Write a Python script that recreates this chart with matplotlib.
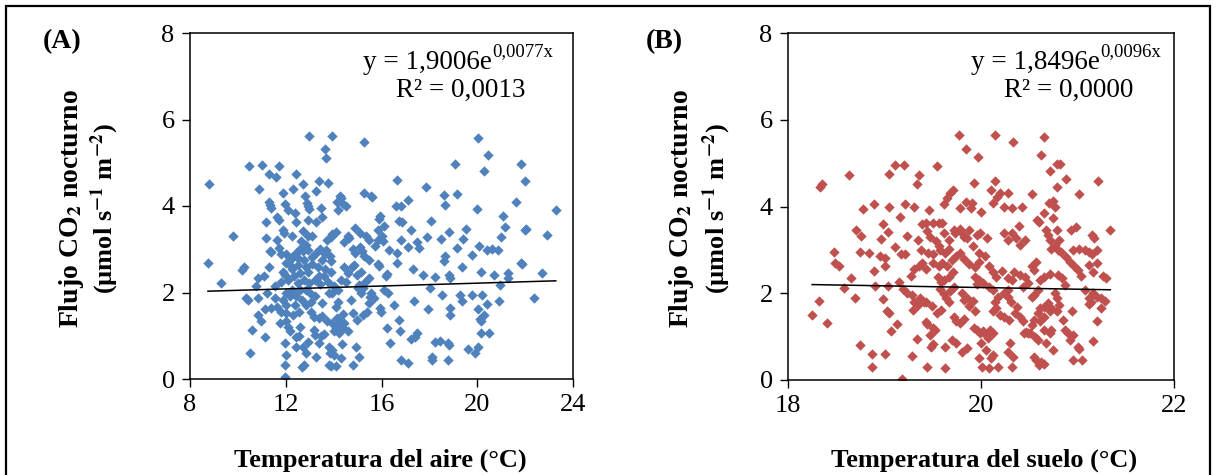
import matplotlib
matplotlib.use("Agg")
import matplotlib.pyplot as plt
from matplotlib.patches import Rectangle
import numpy as np

plt.rcParams['font.family'] = ['Liberation Serif', 'DejaVu Serif']
plt.rcParams['mathtext.fontset'] = 'stix'

# panel A: air temperature (°C) vs night CO2 flux
points_a = [
    (12.96,5.62),(13.95,5.63),(15.25,5.47),(20.02,5.57),(13.62,5.32),(13.69,5.11),(20.46,5.18),
    (10.45,4.93),(11.0,4.94),(11.72,4.92),(19.06,4.96),(21.82,4.96),(20.3,4.81),
    (11.28,4.74),(11.6,4.68),(12.42,4.74),(8.8,4.51),(13.38,4.57),(13.78,4.54),(12.72,4.50),
    (16.66,4.61),(21.98,4.57),(17.84,4.43),(10.88,4.39),(12.3,4.39),(13.26,4.34),(15.28,4.31),
    (15.58,4.24),(15.62,4.21),(11.9,4.30),(18.6,4.26),(19.14,4.27),(12.8,4.22),(14.25,4.24),(14.3,4.18),
    (17.11,4.14),(21.63,4.09),(18.65,4.03),(16.59,4.0),(16.83,4.0),(20.0,3.93),(23.28,3.90),
    (11.28,4.10),(11.35,4.02),(11.39,3.95),(11.98,4.05),(12.08,3.91),(12.88,4.07),(12.97,3.94),
    (14.15,4.1),(14.4,4.05),(14.5,4.0),(14.18,3.9),(13.49,3.95),(12.92,4.0),
    (11.18,3.64),(11.73,3.68),(11.65,3.75),(12.39,3.83),(11.87,3.45),(12.43,3.62),(12.91,3.68),(13.26,3.62),(13.52,3.74),
    (14.1,3.41),(13.9,3.28),(13.73,3.22),(13.95,3.35),(9.79,3.31),(11.18,3.25),(11.39,2.94),(11.62,3.22),(11.94,3.37),
    (12.27,3.30),(12.74,3.43),(13.1,3.31),(14.9,3.50),(15.11,3.37),(15.35,3.30),(15.87,3.45),(16.11,3.53),(15.9,3.7),(15.93,3.77),
    (16.75,3.66),(16.87,3.62),(17.23,3.45),(17.49,3.16),(17.9,3.28),(18.08,3.66),(18.47,3.24),(18.81,3.39),(19.53,3.46),
    (19.42,3.24),(20.98,3.28),(21.18,3.51),(21.06,3.76),(21.98,3.45),(22.05,3.47),(22.91,3.34),(16.8,3.22),(17.09,3.06),(17.57,3.02),
    (16.66,2.91),(16.3,2.99),(19.15,3.02),(20.08,3.08),(20.4,2.99),(20.6,3.0),(20.85,2.99),(19.79,2.87),(18.65,2.85),(18.62,2.72),
    (19.38,2.58),(16.66,2.68),(15.87,2.66),(15.9,2.62),(17.3,2.54),(17.75,2.41),(18.23,2.35),(18.81,2.41),(18.85,2.33),(20.14,2.48),
    (20.7,2.41),(21.29,2.45),(21.29,2.33),(21.82,2.68),(21.86,2.65),(22.72,2.45),(20.94,2.18),(18.04,2.10),(18.52,1.94),(19.28,1.94),
    (19.79,1.94),(20.21,1.94),(20.42,1.74),(20.9,1.81),(19.37,1.81),(18.85,1.64),(17.94,1.61),(17.36,1.81),(20.03,1.61),(18.88,1.48),
    (20.3,1.48),(20.16,1.33),(20.1,1.38),(22.35,1.87),(20.14,1.06),(20.5,1.07),(19.61,0.69),(20.02,0.73),(19.92,0.59),(18.78,0.83),(18.8,0.78),
    (18.23,0.86),(18.46,0.89),(18.13,0.44),(18.77,0.44),(18.13,0.52),(17.5,1.06),(17.23,0.92),(17.39,0.98),(16.8,0.44),(17.1,0.38),
    (16.24,1.17),(16.76,1.1),(16.73,1.37),(16.37,0.84),(15.92,1.64),(15.98,1.56),(16.11,2.06),(16.27,1.98),(16.19,2.37),(16.25,2.42),
    (16.54,1.71),(15.57,1.98),(15.7,1.87),(15.47,1.75),(15.39,1.56),(15.22,1.48),(14.99,1.37),(14.83,1.52),(14.72,1.83),(15.15,1.98),
    (15.23,2.1),(15.07,2.18),(15.31,2.25),(15.47,2.33),(14.96,2.41),(15.15,2.48),(14.75,2.6),(14.86,2.64),(15.28,2.85),(15.47,2.75),
    (15.71,3.08),(15.87,3.22),(15.47,3.22),(15.12,3.06),(14.8,3.0),(14.91,2.91),(14.43,3.16),(14.45,2.6),(14.59,2.45),(14.51,2.25),
    (14.3,2.3),(14.19,2.06),(14.03,2.14),(13.79,1.98),(14.19,1.79),(14.08,1.67),(13.75,2.25),(13.58,2.37),(13.9,2.48),(13.85,2.85),
    (13.87,2.72),(13.63,2.89),(13.52,2.75),(13.28,2.91),(13.7,2.99),(13.1,2.83),(12.91,2.99),(12.83,3.1),(12.59,3.0),(12.43,2.91),
    (12.27,2.83),(12.14,2.72),(12.27,2.6),(12.51,2.64),(12.75,2.75),(12.83,2.6),(12.91,2.48),(12.59,2.45),(12.35,2.37),(12.11,2.29),
    (12.51,2.21),(12.75,2.29),(12.99,2.21),(13.23,2.29),(13.39,2.37),(12.27,2.06),(12.03,1.98),(12.19,1.91),(12.43,1.91),(12.67,1.83),
    (12.83,1.71),(13.07,1.79),(13.23,1.91),(11.87,1.83),(12.03,1.71),(11.79,1.56),(12.03,1.52),(12.31,1.48),(12.55,1.56),(13.07,1.56),
    (13.17,1.44),(13.4,1.4),(13.52,1.75),(13.95,1.98),(13.71,1.33),(13.92,1.29),(14.16,1.40),(14.27,1.25),(14.11,1.17),(14.4,1.17),
    (14.43,1.29),(14.21,1.06),(14.0,1.1),(14.6,1.1),(13.17,1.13),(13.23,1.02),(13.49,1.0),(13.39,0.83),(13.6,1.05),(13.79,0.75),
    (13.84,0.61),(13.95,0.67),(14.03,0.56),(14.32,0.48),(14.34,0.81),(13.79,0.32),(13.9,0.29),(14.12,0.29),(14.83,0.32),(14.94,0.75),
    (15.07,0.52),(12.43,0.96),(12.55,1.0),(12.72,0.73),(12.91,0.86),(13.26,0.52),(12.83,0.61),(12.75,0.32),(12.67,0.27),(12.43,0.75),
    (12.03,0.56),(11.98,0.83),(11.98,0.32),(11.95,0.04),(12.19,1.1),(12.08,1.21),(11.76,1.29),(12.0,1.35),(10.51,0.59),(10.59,1.13),
    (11.12,0.96),(10.98,1.33),(10.85,1.48),(10.83,1.87),(10.35,1.87),(10.42,1.82),(10.19,2.52),(10.25,2.6),(9.28,2.21),(8.75,2.68),
    (10.83,2.33),(11.08,2.37),(10.75,2.14),(11.2,1.98),(11.15,1.61),(11.39,1.64),(11.62,1.67),(11.55,1.87),(11.57,2.14),(11.31,2.6),
    (11.34,2.95),(11.71,3.02),(11.8,2.9),(12.0,2.9),(12.2,2.78),(12.03,2.68),(12.25,2.55),(11.87,2.48),(11.79,2.25),(11.95,2.4),
    (12.6,2.05),(12.85,2.05),(13.0,2.0),(12.4,1.7),(12.6,1.2),(13.5,1.45),(13.35,2.6),(13.1,2.65),(12.65,3.2),(12.95,3.3),
    (12.5,2.8),(12.7,2.95),(13.45,3.0),(13.65,2.55),(14.6,3.3),(14.65,3.25),(15.0,2.1),(15.5,1.9),(16.0,3.3),(16.05,3.2),
    (15.2,2.95),(14.4,1.5),(14.25,1.35),(13.45,2.2),
]

# panel B: soil temperature (°C) vs night CO2 flux
points_b = [
    (19.77,5.65),(20.15,5.65),(20.33,5.49),(20.65,5.6),(19.84,5.32),(19.97,5.14),(20.62,5.19),
    (19.11,4.95),(19.2,4.95),(19.54,4.94),(19.05,4.75),(18.63,4.73),(20.71,4.81),(20.79,4.98),(20.82,4.98),
    (19.36,4.72),(19.34,4.52),(18.33,4.46),(18.35,4.52),(20.88,4.63),(21.21,4.58),(19.93,4.55),(20.14,4.58),(20.79,4.45),
    (19.65,4.2),(19.68,4.3),(19.71,4.37),(20.1,4.37),(20.17,4.23),(20.2,4.3),(20.28,4.3),(20.53,4.28),(21.02,4.28),
    (18.78,3.95),(18.89,4.06),(19.05,4.0),(19.21,4.06),(19.31,4.0),(19.46,3.91),(19.62,4.06),(19.78,3.96),(19.84,4.1),
    (19.91,4.08),(19.9,3.96),(20.0,3.88),(20.12,4.08),(20.24,3.98),(20.32,3.96),(20.43,4.0),(20.7,4.08),(20.75,4.12),(20.77,4.0),
    (20.65,3.85),(20.39,3.54),(20.58,3.69),(20.6,3.65),(20.75,3.73),(20.79,3.46),(20.93,3.46),(20.98,3.52),(21.34,3.45),
    (21.15,3.35),(21.17,3.27),(18.7,3.45),(18.76,3.31),(18.98,3.6),(19.04,3.41),(18.96,3.25),(19.16,3.75),(19.23,3.31),
    (19.35,3.22),(19.39,3.6),(19.43,3.63),(19.5,3.63),(19.56,3.63),(19.6,3.63),(19.44,3.43),(19.47,3.3),(19.53,3.2),(19.56,3.1),
    (19.67,3.23),(19.72,3.46),(19.73,3.38),(19.78,3.48),(19.8,3.38),(19.82,3.3),(19.86,3.27),(19.88,3.46),(19.92,3.08),
    (19.96,3.35),(19.99,3.38),(20.06,3.27),(20.24,3.38),(20.28,3.23),(20.32,3.38),(20.36,3.27),(20.4,3.12),(20.46,3.23),
    (20.67,3.46),(20.69,3.35),(20.71,3.23),(20.77,3.12),(20.81,3.23),(20.73,3.03),(20.8,2.99),(20.83,2.96),
    (20.95,3.0),(21.02,3.03),(21.08,3.0),(21.12,2.96),(18.48,2.94),(18.49,2.69),(18.53,2.63),(18.75,2.95),(18.84,2.92),
    (18.65,2.36),(18.58,2.12),(18.69,1.9),(18.32,1.81),(18.25,1.5),(18.4,1.31),(18.75,0.81),(18.87,0.6),(18.87,0.31),
    (19.01,0.59),(19.18,0.02),(19.29,0.55),(19.44,0.29),(19.63,0.27),(19.07,1.12),(19.13,1.29),(19.05,1.54),(19.03,1.6),
    (18.98,1.86),(18.89,2.52),(19.0,2.63),(18.95,2.85),(19.0,2.81),(18.9,2.17),(19.04,2.17),(19.11,3.06),(19.17,2.9),(19.21,2.9),
    (19.15,2.27),(19.19,2.1),(19.23,2.0),(19.29,1.96),(19.31,1.8),(19.37,1.88),(19.43,1.8),(19.49,1.7),
    (19.27,2.4),(19.31,2.55),(19.36,2.63),(19.39,2.7),(19.43,2.55),(19.5,2.7),(19.56,2.63),
    (19.3,1.62),(19.35,1.73),(19.41,1.8),(19.34,0.94),(19.5,0.84),(19.48,0.77),(19.5,1.2),(19.52,1.16),(19.47,1.04),
    (19.44,1.28),(19.43,1.33),(19.54,1.55),(19.59,1.62),(19.63,0.77),(19.57,2.1),(19.62,1.98),(19.64,1.88),(19.67,1.8),
    (19.68,2.06),(19.72,2.14),(19.55,2.37),(19.59,2.25),(19.62,2.3),(19.67,2.37),(19.71,2.48),(19.6,2.7),(19.65,2.63),
    (19.7,2.77),(19.74,2.85),(19.63,2.92),(19.67,3.03),(19.78,2.92),(19.82,2.8),(19.88,2.68),(19.94,2.6),(19.98,2.72),
    (19.98,2.92),(20.04,2.85),(20.08,2.62),(20.12,2.5),(20.16,2.37),(20.22,2.52),(19.72,1.46),(19.74,1.35),(19.78,1.32),
    (19.82,1.4),(19.7,0.92),(19.74,0.86),(19.8,0.65),(19.86,0.73),(19.88,1.7),(19.94,1.58),(19.92,1.82),(19.86,1.88),
    (19.82,1.85),(19.8,2.0),(19.93,1.2),(19.96,1.15),(19.99,1.08),(20.02,1.12),(20.05,1.04),(20.07,0.96),(20.09,1.15),(20.12,1.08),
    (20.0,0.85),(20.05,0.69),(19.98,0.5),(20.01,0.31),(20.08,0.27),(20.1,0.5),(20.12,0.58),(20.18,0.31),(20.12,1.58),
    (20.16,1.65),(20.2,1.5),(20.24,1.46),(20.14,1.8),(20.18,1.92),(20.24,2.0),(20.28,2.08),(20.12,2.08),(20.08,2.15),
    (20.02,2.23),(19.98,2.3),(19.94,2.37),(19.96,2.22),(20.28,2.35),(20.32,2.3),(20.34,2.5),(20.4,2.42),(20.46,2.38),
    (20.49,2.23),(20.44,2.15),(20.28,1.92),(20.31,1.8),(20.37,1.69),(20.35,1.54),(20.29,1.38),(20.4,1.46),(20.44,1.35),
    (20.3,0.85),(20.28,0.65),(20.33,0.54),(20.32,0.31),(20.45,1.08),(20.47,1.1),(20.49,1.08),(20.51,1.08),
    (20.53,1.27),(20.55,1.38),(20.59,1.54),(20.61,1.65),(20.55,0.54),(20.57,0.46),(20.6,0.35),(20.62,0.42),(20.65,0.38),
    (20.56,1.0),(20.59,0.92),(20.53,1.92),(20.55,1.96),(20.59,2.08),(20.53,2.62),(20.57,2.73),(20.55,2.54),
    (20.61,2.3),(20.65,2.37),(20.71,2.45),(20.65,1.69),(20.69,1.77),(20.73,1.65),(20.71,1.58),(20.65,1.46),
    (20.61,1.35),(20.65,1.15),(20.71,1.08),(20.67,0.85),(20.73,1.15),(20.75,0.69),(20.77,2.0),(20.79,1.88),(20.81,1.73),
    (20.79,1.58),(20.85,1.38),(20.87,1.15),(20.9,1.08),(20.92,0.92),(20.95,1.04),(20.87,2.2),(20.84,2.35),(20.8,2.42),
    (20.88,2.84),(20.92,2.73),(20.96,2.62),(21.04,2.39),(21.0,2.54),(20.94,1.6),(20.95,0.46),(21.05,0.46),(21.0,0.75),
    (21.02,0.72),(21.08,2.08),(21.12,1.88),(21.16,2.0),(21.2,1.92),(21.14,1.8),(21.12,1.75),(21.16,0.9),(21.2,1.35),
    (21.24,1.88),(21.24,1.65),(21.28,1.82),(21.3,2.35),(21.26,2.4),(21.12,2.65),(21.16,2.5),(21.2,2.7),(21.15,2.9),(21.2,3.0),
    (19.58,3.0),(19.62,3.4),(19.5,2.9),(19.45,2.92),(19.38,3.0),
]

# trend line end values as drawn
trend_a = [2.03, 2.27]
trend_b = [2.20, 2.08]

eq_a = ("y = 1,9006e", "0,0077x", "R² = 0,0013")
eq_b = ("y = 1,8496e", "0,0096x", "R² = 0,0000")

xticks_a = [8, 12, 16, 20, 24]
xticks_b = [18, 20, 22]
yticks = [0, 2, 4, 6, 8]

fig = plt.figure(figsize=(12.16, 4.75), dpi=100)

# frame round the whole figure
fig.patches.append(Rectangle((6/1216, -0.05), 1204/1216, 0.05 + 469/475,
                             transform=fig.transFigure, fill=False,
                             edgecolor='black', linewidth=1.6))

panels = [
    dict(rect=[190/1216, 96/475, 383/1216, 346/475], pts=points_a, color='#4F81BD',
         xlim=(8, 24), xticks=xticks_a, trend=trend_a, eq=eq_a, eqx=0.452, r2x=0.708,
         tag='(A)', tagx=62, ylab1=71, ylab2=105, xlabx=380,
         xlabel='Temperatura del aire (°C)'),
    dict(rect=[788/1216, 95/475, 386/1216, 347/475], pts=points_b, color='#C0504D',
         xlim=(18, 22), xticks=xticks_b, trend=trend_b, eq=eq_b, eqx=0.474, r2x=0.728,
         tag='(B)', tagx=664, ylab1=681, ylab2=717, xlabx=984,
         xlabel='Temperatura del suelo (°C)'),
]

for p in panels:
    ax = fig.add_axes(p['rect'])
    xs = np.array([q[0] for q in p['pts']])
    ys = np.array([q[1] for q in p['pts']])
    ax.scatter(xs, ys, marker='D', s=28, color=p['color'], linewidths=0, zorder=2)
    ax.plot([xs.min(), xs.max()], p['trend'], color='black', linewidth=1.1, zorder=3)
    ax.set_xlim(*p['xlim'])
    ax.set_ylim(0, 8)
    ax.set_xticks(p['xticks'])
    ax.set_yticks(yticks)
    ax.tick_params(direction='out', length=6, width=1, labelsize=19, pad=5)
    for s in ax.spines.values():
        s.set_linewidth(1.1)

    t = ax.text(p['eqx'], 0.915, p['eq'][0], transform=ax.transAxes,
                fontsize=19.5, ha='left', va='center')
    ax.annotate(p['eq'][1], xy=(1, 0.6), xycoords=t, fontsize=13.5,
                ha='left', va='bottom')
    ax.text(p['r2x'], 0.835, p['eq'][2], transform=ax.transAxes,
            fontsize=19.5, ha='center', va='center')

    fig.text(p['tagx']/1216, 1 - 42/475, p['tag'], fontsize=20, fontweight='bold',
             ha='center', va='center')
    fig.text(p['ylab1']/1216, 1 - 209/475, r'Flujo CO$_\mathbf{2}$ nocturno',
             rotation=90, fontsize=20, fontweight='bold', ha='center', va='center')
    fig.text(p['ylab2']/1216, 1 - 209/475,
             r'(µmol s$^{\mathbf{-1}}$ m$^{\mathbf{-2}}$)',
             rotation=90, fontsize=19, fontweight='bold', ha='center', va='center')
    fig.text(p['xlabx']/1216, 1 - 460/475, p['xlabel'], fontsize=19,
             fontweight='bold', ha='center', va='center')

fig.savefig('out.png', dpi=100)
